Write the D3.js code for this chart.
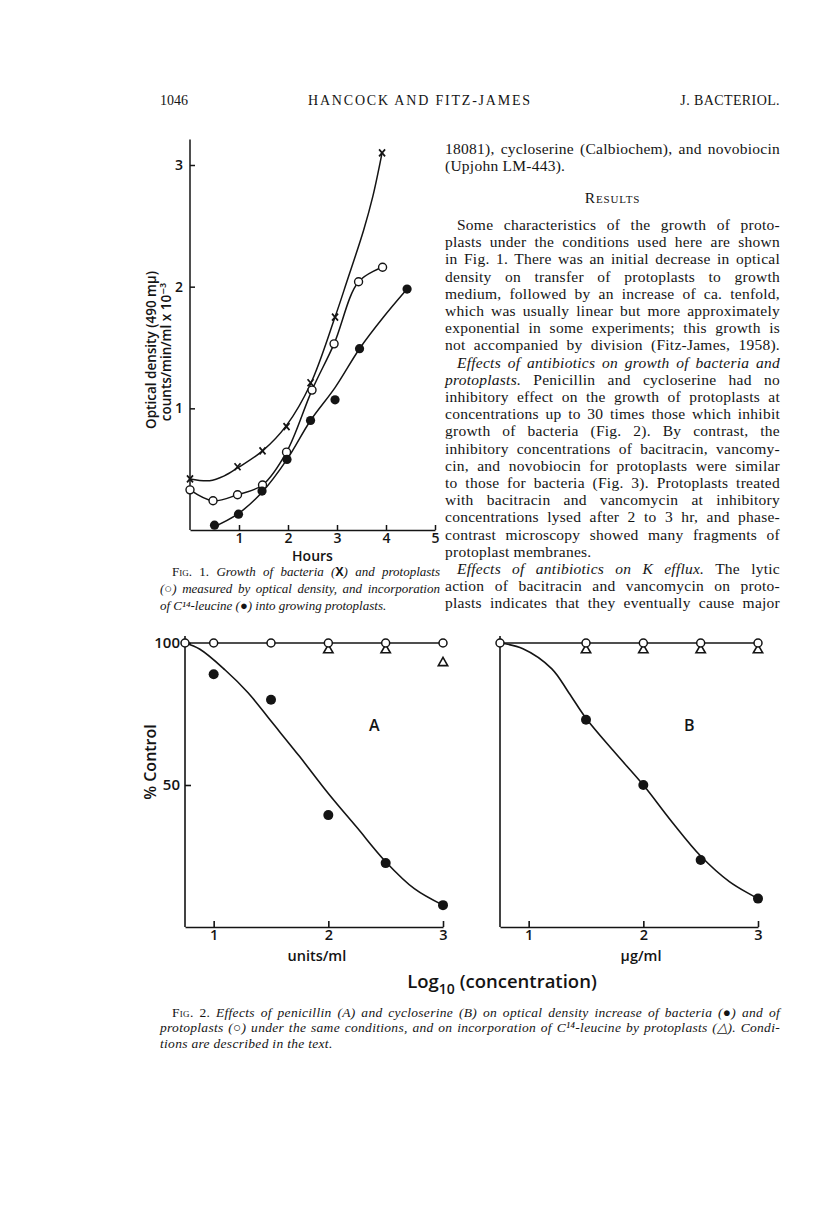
<!DOCTYPE html>
<html>
<head>
<meta charset="utf-8">
<script src="https://cdn.jsdelivr.net/npm/d3@7"></script>
<style>
body { margin: 0; background: #fff; }
svg { display: block; }
</style>
</head>
<body>
<svg id="page" width="816" height="1221"></svg>
<script>
// ---- Fig. 1 data: [hours, value] ----
const hourTicks = [1, 2, 3, 4, 5];
const densityTicks = [1, 2, 3];
const bacteriaPts = [[0, 0.42], [0.97, 0.52], [1.48, 0.65], [1.97, 0.85], [2.46, 1.21], [2.96, 1.75], [3.92, 3.1]];
const bacteriaCurve = [[0, 0.42], [0.4, 0.405], [0.7, 0.445], [0.97, 0.51], [1.48, 0.65], [1.97, 0.86], [2.46, 1.2], [2.96, 1.75], [3.2, 2.04], [3.54, 2.46], [3.73, 2.74], [3.92, 3.1]];
const protoPts = [[0, 0.33], [0.47, 0.24], [0.97, 0.29], [1.48, 0.37], [1.97, 0.64], [2.49, 1.15], [2.94, 1.53], [3.44, 2.04], [3.93, 2.16]];
const leucinePts = [[0.5, 0.04], [0.99, 0.13], [1.47, 0.32], [1.98, 0.58], [2.46, 0.9], [2.96, 1.07], [3.46, 1.49], [4.43, 1.98]];
const leucineCurve = [[0.46, 0.02], [0.97, 0.13], [1.47, 0.31], [1.98, 0.58], [2.46, 0.9], [2.96, 1.17], [3.46, 1.49], [3.95, 1.75], [4.43, 1.98]];

// ---- Fig. 2 data: [log10 concentration, % control] ----
const logTicks = [1, 2, 3];
const penBacteria = [[1, 89], [1.5, 80], [2, 39.4], [2.5, 22.5], [3, 7.7]];
const penBacteriaCurve = [[0.75, 100], [0.88, 97.8], [1.1, 90.5], [1.3, 82.5], [1.5, 72.5], [1.75, 60], [2, 47], [2.25, 35], [2.5, 23], [2.75, 13.5], [3, 7.7]];
const penProto = [[0.75, 100], [1, 100], [1.5, 100], [2, 100], [2.5, 100], [3, 100]];
const penLeucine = [[2, 97.5], [2.5, 97.5], [3, 93]];
const cycBacteria = [[1.5, 73], [2, 50], [2.5, 23.6], [3, 10]];
const cycBacteriaCurve = [[0.75, 100], [0.95, 98], [1.2, 91], [1.35, 82.5], [1.5, 73.5], [1.75, 61.5], [2, 50], [2.25, 37], [2.5, 25], [2.75, 16], [3, 10]];
const cycProto = [[0.75, 100], [1.5, 100], [2, 100], [2.5, 100], [3, 100]];
const cycLeucine = [[1.5, 97.5], [2, 97.5], [2.5, 97.5], [3, 97.5]];

// ---- page text ----
const bodyTop = [
  {y: 149, segs: [{t: '18081), cycloserine (Calbiochem), and novobiocin'}], j: true},
  {y: 166, segs: [{t: '(Upjohn LM-443).'}]}
];
const bodyLines = [
  {segs: [{t: 'Some characteristics of the growth of proto-'}], j: true, ind: true},
  {segs: [{t: 'plasts under the conditions used here are shown'}], j: true},
  {segs: [{t: 'in Fig. 1. There was an initial decrease in optical'}], j: true},
  {segs: [{t: 'density on transfer of protoplasts to growth'}], j: true},
  {segs: [{t: 'medium, followed by an increase of ca. tenfold,'}], j: true},
  {segs: [{t: 'which was usually linear but more approximately'}], j: true},
  {segs: [{t: 'exponential in some experiments; this growth is'}], j: true},
  {segs: [{t: 'not accompanied by division (Fitz-James, 1958).'}], j: true},
  {segs: [{t: 'Effects of antibiotics on growth of bacteria and', i: true}], j: true, ind: true},
  {segs: [{t: 'protoplasts.', i: true}, {t: ' Penicillin and cycloserine had no'}], j: true},
  {segs: [{t: 'inhibitory effect on the growth of protoplasts at'}], j: true},
  {segs: [{t: 'concentrations up to 30 times those which inhibit'}], j: true},
  {segs: [{t: 'growth of bacteria (Fig. 2). By contrast, the'}], j: true},
  {segs: [{t: 'inhibitory concentrations of bacitracin, vancomy-'}], j: true},
  {segs: [{t: 'cin, and novobiocin for protoplasts were similar'}], j: true},
  {segs: [{t: 'to those for bacteria (Fig. 3). Protoplasts treated'}], j: true},
  {segs: [{t: 'with bacitracin and vancomycin at inhibitory'}], j: true},
  {segs: [{t: 'concentrations lysed after 2 to 3 hr, and phase-'}], j: true},
  {segs: [{t: 'contrast microscopy showed many fragments of'}], j: true},
  {segs: [{t: 'protoplast membranes.'}]},
  {segs: [{t: 'Effects of antibiotics on K efflux.', i: true}, {t: ' The lytic'}], j: true, ind: true},
  {segs: [{t: 'action of bacitracin and vancomycin on proto-'}], j: true},
  {segs: [{t: 'plasts indicates that they eventually cause major'}], j: true}
];
const fig1Caption = [
  [{t: 'Fig. 1. ', sc: true}, {t: 'Growth of bacteria ', i: true}, {t: '(', i: true}, {t: 'X', b: true}, {t: ') and protoplasts', i: true}],
  [{t: '(○) ', i: true}, {t: 'measured by optical density, and incorporation', i: true}],
  [{t: 'of C¹⁴-leucine (●) into growing protoplasts.', i: true}]
];
const fig2Caption = [
  [{t: 'Fig. 2. ', sc: true}, {t: 'Effects of penicillin (A) and cycloserine (B) on optical density increase of bacteria (●) and of', i: true}],
  [{t: 'protoplasts (○) under the same conditions, and on incorporation of C¹⁴-leucine by protoplasts (△). Condi-', i: true}],
  [{t: 'tions are described in the text.', i: true}]
];

const ink = '#141414';
const serif = "'Liberation Serif', 'Times New Roman', serif";
const sans = "'Open Sans', 'DejaVu Sans', sans-serif";
const svg = d3.select('#page');

// justified lines: stretch the word gaps, not the letters
function textLine(x, y, segs, size, width, track) {
  const t = svg.append('text')
    .attr('x', x).attr('y', y)
    .style('font-family', serif)
    .style('font-size', size + 'px')
    .style('letter-spacing', (track || 0) + 'px')
    .attr('fill', ink);
  segs.forEach(s => {
    const ts = t.append('tspan').text(s.t);
    if (s.i) ts.style('font-style', 'italic');
    if (s.sc) ts.style('font-variant', 'small-caps');
    if (s.b) ts.style('font-family', sans).style('font-weight', 'bold').style('font-size', (size - 1) + 'px');
  });
  if (width) {
    const natural = t.node().getComputedTextLength();
    const gaps = segs.map(s => s.t).join('').split(' ').length - 1;
    if (gaps > 0) t.style('word-spacing', ((width - natural) / gaps) + 'px');
  }
  return t;
}

// ---- running head ----
svg.append('text').attr('x', 160).attr('y', 105)
  .style('font-family', serif).style('font-size', '14px').attr('fill', ink).text('1046');
svg.append('text').attr('x', 420).attr('y', 105).attr('text-anchor', 'middle')
  .style('font-family', serif).style('font-size', '14px').style('letter-spacing', '1.8px')
  .attr('fill', ink).text('HANCOCK AND FITZ-JAMES');
svg.append('text').attr('x', 780).attr('y', 105).attr('text-anchor', 'end')
  .style('font-family', serif).style('font-size', '14px').style('letter-spacing', '0.4px')
  .attr('fill', ink).text('J. BACTERIOL.');

// ---- right column ----
const colX = 445, colW = 335, lineH = 17.2, firstY = 225, bodySize = 15.5, bodyTrack = 0.25;
bodyTop.forEach(l => textLine(colX, l.y + 5, l.segs, bodySize, l.j ? colW : null, bodyTrack));
svg.append('text').attr('x', colX + colW / 2).attr('y', 198 + 5).attr('text-anchor', 'middle')
  .style('font-family', serif).style('font-size', bodySize + 'px').style('font-variant', 'small-caps')
  .style('letter-spacing', '0.8px').attr('fill', ink).text('Results');
bodyLines.forEach((l, k) => {
  const x = l.ind ? colX + 12 : colX;
  textLine(x, firstY + k * lineH + 5, l.segs, bodySize, l.j ? colX + colW - x : null, bodyTrack);
});

// ---- Fig. 1 ----
const f1x = d3.scaleLinear().domain([0, 5]).range([190, 435]);
const f1y = d3.scaleLinear().domain([0, 3]).range([530, 165]);
const f1 = svg.append('g');

f1.append('g').attr('transform', `translate(0,${f1y(0)})`)
  .call(d3.axisBottom(f1x).tickValues(hourTicks).tickSize(-5).tickSizeOuter(0).tickPadding(3).tickFormat(d3.format('d')))
  .call(g => g.selectAll('text').style('font-family', sans).style('font-size', '14px').style('font-weight', 600).attr('fill', ink))
  .call(g => g.selectAll('line,path').attr('stroke', ink).attr('stroke-width', 1.5));
f1.append('g').attr('transform', `translate(${f1x(0)},0)`)
  .call(d3.axisLeft(f1y).tickValues(densityTicks).tickSize(-5).tickPadding(7).tickFormat(d3.format('d')))
  .call(g => g.select('.domain').remove())
  .call(g => g.selectAll('text').style('font-family', sans).style('font-size', '14px').style('font-weight', 600).attr('fill', ink))
  .call(g => g.selectAll('line').attr('stroke', ink).attr('stroke-width', 1.5));
f1.append('line').attr('x1', f1x(0)).attr('x2', f1x(0)).attr('y1', f1y(0)).attr('y2', f1y(3.21))
  .attr('stroke', ink).attr('stroke-width', 1.5);

f1.append('text').attr('x', (f1x(0) + f1x(5)) / 2).attr('y', 561).attr('text-anchor', 'middle')
  .style('font-family', sans).style('font-size', '14px').style('font-weight', 600).attr('fill', ink).text('Hours');
f1.append('text').attr('transform', 'translate(156,350) rotate(-90)').attr('text-anchor', 'middle')
  .style('font-family', sans).style('font-size', '13.5px').style('font-weight', 600).attr('fill', ink)
  .text('Optical density (490 mμ)');
f1.append('text').attr('transform', 'translate(171,352) rotate(-90)').attr('text-anchor', 'middle')
  .style('font-family', sans).style('font-size', '13.5px').style('font-weight', 600).attr('fill', ink)
  .text('counts/min/ml x 10⁻³');

const f1line = d3.line().x(d => f1x(d[0])).y(d => f1y(d[1])).curve(d3.curveCatmullRom.alpha(0.5));
[bacteriaCurve, protoPts, leucineCurve].forEach(c => {
  f1.append('path').attr('d', f1line(c)).attr('fill', 'none').attr('stroke', ink).attr('stroke-width', 1.5);
});
f1.selectAll('.xmark').data(bacteriaPts).enter().append('path')
  .attr('d', d => { const x = f1x(d[0]), y = f1y(d[1]); return `M${x - 3},${y - 3.5}L${x + 3},${y + 3.5}M${x + 3},${y - 3.5}L${x - 3},${y + 3.5}`; })
  .attr('stroke', ink).attr('stroke-width', 1.7);
f1.selectAll('.omark').data(protoPts).enter().append('circle')
  .attr('cx', d => f1x(d[0])).attr('cy', d => f1y(d[1])).attr('r', 4)
  .attr('fill', '#fff').attr('stroke', ink).attr('stroke-width', 1.4);
f1.selectAll('.fmark').data(leucinePts).enter().append('circle')
  .attr('cx', d => f1x(d[0])).attr('cy', d => f1y(d[1])).attr('r', 4.6).attr('fill', ink);

// caption: last line is left ragged
const capY = firstY + 20 * lineH + 2;
fig1Caption.forEach((segs, k) => {
  const x = k === 0 ? 172 : 160;
  textLine(x, capY + k * lineH + 4.5, segs, 13, k === 2 ? null : 440 - x, 0);
});

// ---- Fig. 2 ----
const f2y = d3.scaleLinear().domain([0, 100]).range([927, 643]);
const panels = [
  {x: d3.scaleLinear().domain([0.75, 3]).range([185, 443]), bact: penBacteria, curve: penBacteriaCurve,
   proto: penProto, leu: penLeucine, letter: 'A', unit: 'units/ml', unitAt: 1.9, yt: [50, 100]},
  {x: d3.scaleLinear().domain([0.75, 3]).range([500, 758]), bact: cycBacteria, curve: cycBacteriaCurve,
   proto: cycProto, leu: cycLeucine, letter: 'B', unit: 'μg/ml', unitAt: 1.98, yt: []}
];
panels.forEach(p => {
  const g = svg.append('g');
  g.append('g').attr('transform', `translate(0,${f2y(0)})`)
    .call(d3.axisBottom(p.x).tickValues(logTicks).tickSize(-6).tickSizeOuter(0).tickPadding(3).tickFormat(d3.format('d')))
    .call(a => a.selectAll('text').style('font-family', sans).style('font-size', '14.5px').style('font-weight', 600).attr('fill', ink))
    .call(a => a.selectAll('line,path').attr('stroke', ink).attr('stroke-width', 1.6));
  g.append('g').attr('transform', `translate(${p.x(0.75)},0)`)
    .call(d3.axisLeft(f2y).tickValues(p.yt).tickSize(-6).tickPadding(5).tickFormat(d3.format('d')))
    .call(a => a.select('.domain').remove())
    .call(a => a.selectAll('text').style('font-family', sans).style('font-size', '15px').style('font-weight', 600).attr('fill', ink))
    .call(a => a.selectAll('line').attr('stroke', ink).attr('stroke-width', 1.6));
  g.append('line').attr('x1', p.x(0.75)).attr('x2', p.x(0.75)).attr('y1', f2y(0)).attr('y2', f2y(102.5))
    .attr('stroke', ink).attr('stroke-width', 1.6);

  const ln = d3.line().x(d => p.x(d[0])).y(d => f2y(d[1])).curve(d3.curveCatmullRom.alpha(0.5));
  g.append('path').attr('d', ln(p.proto)).attr('fill', 'none').attr('stroke', ink).attr('stroke-width', 1.5);
  g.append('path').attr('d', ln(p.curve)).attr('fill', 'none').attr('stroke', ink).attr('stroke-width', 1.6);

  const tri = d3.symbol().type(d3.symbolTriangle).size(38);
  g.selectAll('.tri').data(p.leu).enter().append('path')
    .attr('transform', d => `translate(${p.x(d[0])},${f2y(d[1])})`).attr('d', tri)
    .attr('fill', '#fff').attr('stroke', ink).attr('stroke-width', 1.6);
  g.selectAll('.open').data(p.proto).enter().append('circle')
    .attr('cx', d => p.x(d[0])).attr('cy', d => f2y(d[1])).attr('r', 4)
    .attr('fill', '#fff').attr('stroke', ink).attr('stroke-width', 1.5);
  g.selectAll('.dot').data(p.bact).enter().append('circle')
    .attr('cx', d => p.x(d[0])).attr('cy', d => f2y(d[1])).attr('r', 5).attr('fill', ink);

  g.append('text').attr('x', p.x(2.4)).attr('y', 731).attr('text-anchor', 'middle')
    .style('font-family', sans).style('font-size', '16px').style('font-weight', 600).attr('fill', ink).text(p.letter);
  g.append('text').attr('x', p.x(p.unitAt)).attr('y', 961).attr('text-anchor', 'middle')
    .style('font-family', sans).style('font-size', '14.5px').style('font-weight', 600).attr('fill', ink).text(p.unit);
});

svg.append('text').attr('transform', 'translate(156,762) rotate(-90)').attr('text-anchor', 'middle')
  .style('font-family', sans).style('font-size', '16px').style('font-weight', 600).attr('fill', ink).text('% Control');

const logLabel = svg.append('text').attr('x', 502).attr('y', 988).attr('text-anchor', 'middle')
  .style('font-family', sans).style('font-size', '18.5px').style('font-weight', 600).attr('fill', ink);
logLabel.append('tspan').text('Log');
logLabel.append('tspan').attr('dy', 6).style('font-size', '14px').text('10');
logLabel.append('tspan').attr('dy', -6).text('  (concentration)');

fig2Caption.forEach((segs, k) => {
  const x = k === 0 ? 172 : 160;
  textLine(x, 1012 + k * 15.5 + 4.5, segs, 13.5, k === 2 ? null : 780 - x, 0.3);
});
</script>
</body>
</html>
